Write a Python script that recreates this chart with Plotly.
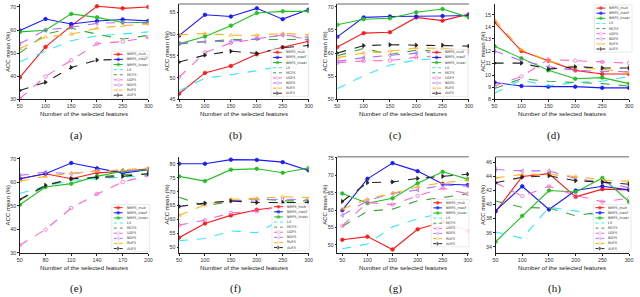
import plotly.graph_objects as go

# ---------------- data ----------------
methods = ["NMFS_mult", "NMFS_maxF", "NMFS_linear", "LS", "MCFS", "UDFS", "NDFS", "RUFS", "AUFS"]
x_main = [50, 100, 150, 200, 250, 300]
x_e = [50, 80, 110, 140, 170, 200]

acc_a = [
    [39.5, 52.7, 61.8, 70.3, 69.4, 70.0],
    [59.8, 64.8, 62.6, 63.9, 64.6, 64.0],
    [59.2, 59.9, 67.0, 65.5, 63.3, 63.3],
    [46.3, 50.9, 55.4, 57.5, 58.4, 59.2],
    [50.1, 58.2, 60.8, 58.2, 56.1, 57.7],
    [30.3, 39.9, 46.9, 54.1, 55.0, 56.8],
    [54.1, 60.0, 61.2, 62.9, 63.3, 62.9],
    [52.0, 57.0, 58.2, 60.8, 61.9, 62.6],
    [33.8, 37.4, 43.8, 47.0, 47.3, 48.7],
]
acc_b = [
    [46.3, 51.1, 52.7, 55.4, 57.0, 58.4],
    [59.7, 64.5, 64.1, 66.0, 63.5, 65.7],
    [57.8, 59.5, 62.0, 64.9, 65.3, 65.3],
    [46.9, 49.9, 50.7, 51.6, 52.7, 55.2],
    [57.8, 58.3, 58.8, 58.8, 58.8, 58.8],
    [50.1, 55.8, 58.0, 59.0, 59.9, 58.8],
    [58.0, 58.3, 58.4, 59.0, 59.8, 59.3],
    [59.9, 60.2, 59.8, 59.8, 60.2, 59.9],
    [53.6, 55.2, 56.1, 55.6, 56.9, 57.4],
]
acc_c = [
    [61.3, 64.3, 64.5, 67.7, 67.0, 68.4],
    [63.5, 67.7, 67.9, 67.9, 68.0, 68.1],
    [66.1, 67.3, 67.5, 68.8, 69.5, 67.7],
    [52.3, 55.1, 57.4, 58.5, 58.9, 59.0],
    [59.4, 61.0, 59.7, 60.6, 60.4, 60.6],
    [57.9, 58.3, 58.4, 59.1, 59.4, 59.9],
    [58.2, 59.0, 59.5, 60.0, 60.4, 60.4],
    [59.0, 60.0, 60.4, 61.1, 61.0, 60.6],
    [60.0, 61.6, 61.8, 61.7, 61.7, 61.5],
]
acc_d = [
    [14.4, 12.0, 11.2, 10.4, 10.1, 10.1],
    [9.4, 9.1, 9.05, 9.05, 8.95, 8.95],
    [12.4, 11.4, 10.4, 9.7, 9.8, 9.3],
    [8.5, 9.6, 9.1, 9.4, 9.5, 9.9],
    [8.9, 9.7, 9.5, 9.4, 9.3, 9.1],
    [9.1, 9.9, 11.3, 11.2, 11.1, 11.0],
    [12.0, 11.2, 10.7, 10.4, 10.3, 10.3],
    [14.6, 12.1, 11.2, 10.6, 10.5, 10.2],
    [11.0, 11.0, 10.5, 10.7, 10.6, 10.6],
]
acc_e = [
    [61.6, 63.7, 61.6, 64.1, 64.7, 65.8],
    [61.6, 63.7, 68.3, 66.0, 64.0, 65.4],
    [50.5, 58.1, 59.5, 62.6, 64.8, 65.4],
    [55.3, 58.4, 60.9, 61.6, 62.6, 63.0],
    [52.6, 58.4, 61.6, 62.3, 63.4, 63.7],
    [33.3, 40.0, 49.1, 55.1, 60.2, 63.0],
    [63.0, 64.4, 63.7, 65.1, 65.1, 65.4],
    [60.6, 62.6, 64.0, 64.8, 65.4, 66.1],
    [52.8, 58.8, 61.6, 62.0, 62.6, 63.7],
]
acc_f = [
    [53.5, 58.6, 61.5, 63.5, 64.7, 64.9],
    [80.0, 80.0, 81.5, 81.4, 80.6, 77.6],
    [75.5, 73.8, 77.9, 78.2, 76.8, 78.5],
    [52.4, 53.2, 55.9, 55.3, 60.0, 61.8],
    [68.0, 64.9, 66.5, 67.6, 66.7, 66.7],
    [58.0, 59.8, 62.4, 63.0, 64.7, 65.3],
    [64.7, 65.6, 66.7, 67.1, 67.3, 67.1],
    [61.5, 65.3, 67.3, 67.6, 68.2, 67.9],
    [64.7, 65.9, 66.7, 66.1, 66.1, 66.1],
]
acc_g = [
    [51.5, 52.4, 48.7, 54.5, 56.6, 54.0],
    [60.0, 69.0, 73.5, 71.2, 67.5, 67.2],
    [64.8, 62.0, 63.4, 67.7, 71.0, 68.9],
    [48.9, 50.3, 55.2, 57.5, 59.2, 60.3],
    [55.3, 59.7, 60.3, 62.7, 63.6, 64.7],
    [55.5, 62.2, 61.6, 64.1, 66.3, 64.7],
    [58.5, 62.7, 64.8, 65.8, 67.2, 66.9],
    [60.3, 63.2, 64.8, 66.7, 67.9, 68.6],
    [62.5, 67.9, 68.1, 69.1, 69.7, 70.3],
]
acc_h = [
    [39.0, 44.0, 44.4, 41.1, 42.2, 42.1],
    [39.1, 42.6, 39.3, 42.0, 42.6, 42.1],
    [34.7, 38.4, 42.0, 41.8, 43.8, 40.4],
    [36.1, 35.2, 39.6, 39.1, 38.3, 38.2],
    [40.5, 39.6, 39.5, 38.4, 39.0, 39.7],
    [43.1, 41.2, 42.6, 41.3, 40.4, 40.9],
    [45.0, 44.8, 44.8, 43.7, 43.2, 42.4],
    [43.8, 44.3, 44.3, 44.0, 43.5, 43.3],
    [43.1, 43.9, 44.1, 43.4, 43.2, 42.9],
]
captions = ["(a)", "(b)", "(c)", "(d)", "(e)", "(f)", "(g)", "(h)"]
y_ticks = [
    [30, 40, 50, 60, 70],
    [45, 50, 55, 60, 65],
    [50, 55, 60, 65, 70],
    [8, 9, 10, 11, 12, 13, 14, 15, 16],
    [30, 40, 50, 60, 70],
    [50, 55, 60, 65, 70, 75, 80],
    [50, 55, 60, 65, 70, 75],
    [34, 36, 38, 40, 42, 44, 46],
]

# ---------------- styles ----------------
colors = ["#ff1a1a", "#1a1aff", "#22c022", "#33e8ff", "#3aa83a", "#ff66cc", "#b070ff", "#ffb020", "#222222"]
dashes = ["solid", "solid", "solid", "dash", "dash", "dash", "dash", "dash", "dash"]
symbols = ["circle", "circle", "circle", None, None, "circle-open", "triangle-left-open", "triangle-up-open", "triangle-right"]

panels = [
    (acc_a, x_main, [17, 147], "top", [30, 71.3], [50, 300]),
    (acc_b, x_main, [178, 309], "top", [45, 67.0], [50, 300]),
    (acc_c, x_main, [338, 471], "top", [50, 70.6], [50, 300]),
    (acc_d, x_main, [497, 633], "top", [8, 15.9], [50, 300]),
    (acc_e, x_e, [17, 147], "bot", [30, 70.9], [50, 200]),
    (acc_f, x_main, [178, 309], "bot", [48, 82.5], [50, 300]),
    (acc_g, x_main, [338, 471], "bot", [47.7, 75.3], [40, 302]),
    (acc_h, x_main, [498, 633], "bot", [33.1, 46.8], [50, 300]),
]
rows_px = {"top": (2, 99), "bot": (157.5, 255.3)}
caption_y = {"top": 136, "bot": 291}
gray_top = [1, 2, 6, 7]
legend_pos = [(110, 50), (271, 48), (432, 48), (598, 3), (110, 206), (272, 205), (433, 201), (597, 206)]

W, H = 640, 297
fig = go.Figure()
layout = dict(width=W, height=H, margin=dict(l=0, r=0, t=0, b=0),
              paper_bgcolor="white", plot_bgcolor="rgba(0,0,0,0)", showlegend=False)
shapes, annotations = [], []
tick_font = dict(family="Liberation Sans", size=5.3, color="#333")

for i, (data, xs, xpx, row, yr, xr) in enumerate(panels):
    n = i + 1
    xa = "xaxis" if n == 1 else f"xaxis{n}"
    ya = "yaxis" if n == 1 else f"yaxis{n}"
    xref = "x" if n == 1 else f"x{n}"
    yref = "y" if n == 1 else f"y{n}"
    top, bot = rows_px[row]
    layout[xa] = dict(domain=[xpx[0] / W, xpx[1] / W], range=xr, anchor=yref,
                      tickvals=xs, showline=True, linecolor="#222", linewidth=1,
                      ticks="outside", ticklen=1.5, tickcolor="#222", showgrid=False,
                      zeroline=False, tickfont=tick_font)
    layout[ya] = dict(domain=[1 - bot / H, 1 - top / H], range=yr, anchor=xref,
                      tickvals=y_ticks[i], showline=True, linecolor="#222", linewidth=1,
                      ticks="outside", ticklen=1.5, tickcolor="#222", showgrid=False,
                      zeroline=False, tickfont=tick_font)
    for k in range(9):
        mode = "lines" if symbols[k] is None else "lines+markers"
        fig.add_trace(go.Scatter(
            x=xs, y=data[k], mode=mode, name=methods[k], xaxis=xref, yaxis=yref,
            line=dict(color=colors[k], width=1.1, dash=dashes[k]),
            marker=dict(symbol=symbols[k] or "circle", size=3.5, color=colors[k],
                        line=dict(color=colors[k], width=0.8)),
        ))
    if i in gray_top:
        shapes.append(dict(type="line", xref="paper", yref="paper",
                           x0=xpx[0] / W, x1=xpx[1] / W, y0=1 - top / H, y1=1 - top / H,
                           line=dict(color="#999", width=1.5)))
    cx = (xpx[0] + xpx[1]) / 2
    annotations.append(dict(text="Number of the selected features", x=cx / W,
                            y=1 - (bot + 14.5) / H, xref="paper", yref="paper",
                            xanchor="center", yanchor="middle",
                            showarrow=False, font=dict(family="Liberation Sans", size=6.2, color="#222")))
    annotations.append(dict(text="ACC mean (%)", x=(xpx[0] - 12.5) / W, y=1 - (top + bot) / 2 / H,
                            xref="paper", yref="paper", textangle=-90, showarrow=False,
                            xanchor="center", yanchor="middle",
                            font=dict(family="Liberation Sans", size=6, color="#222")))
    annotations.append(dict(text=captions[i], x=(cx - 8) / W, y=1 - caption_y[row] / H,
                            xref="paper", yref="paper", showarrow=False,
                            xanchor="center", yanchor="middle",
                            font=dict(family="Liberation Serif", size=11, color="#111")))

    # legend box drawn in pixel-space overlay axis
    lx, ly = legend_pos[i]
    shapes.append(dict(type="rect", xref="x9", yref="y9", x0=lx, x1=lx + 38, y0=ly, y1=ly + 48,
                       fillcolor="rgba(255,255,255,0.9)", line=dict(color="#ddd", width=0.6),
                       layer="below"))
    for k in range(9):
        yy = ly + 3.2 + k * 5.2
        fig.add_trace(go.Scatter(
            x=[lx + 2, lx + 6.5, lx + 11], y=[yy, yy, yy], xaxis="x9", yaxis="y9",
            mode="lines" if symbols[k] is None else "lines+markers",
            line=dict(color=colors[k], width=1.0, dash="solid" if dashes[k] == "solid" else "dot"),
            marker=dict(symbol=symbols[k] or "circle", size=[0, 3, 0], color=colors[k],
                        line=dict(color=colors[k], width=0.6)),
            hoverinfo="skip"))
        annotations.append(dict(text=methods[k], x=lx + 13, y=yy, xref="x9", yref="y9",
                                xanchor="left", yanchor="middle", showarrow=False,
                                font=dict(family="DejaVu Sans", size=3.4, color="#333")))

layout["xaxis9"] = dict(domain=[0, 1], range=[0, W], visible=False, anchor="y9", fixedrange=True)
layout["yaxis9"] = dict(domain=[0, 1], range=[H, 0], visible=False, anchor="x9", fixedrange=True)
layout["shapes"] = shapes
layout["annotations"] = annotations
fig.update_layout(**layout)
fig.write_html("out.html", config={"displayModeBar": False},
               post_script="document.body.style.margin='0';document.body.style.padding='0';")
